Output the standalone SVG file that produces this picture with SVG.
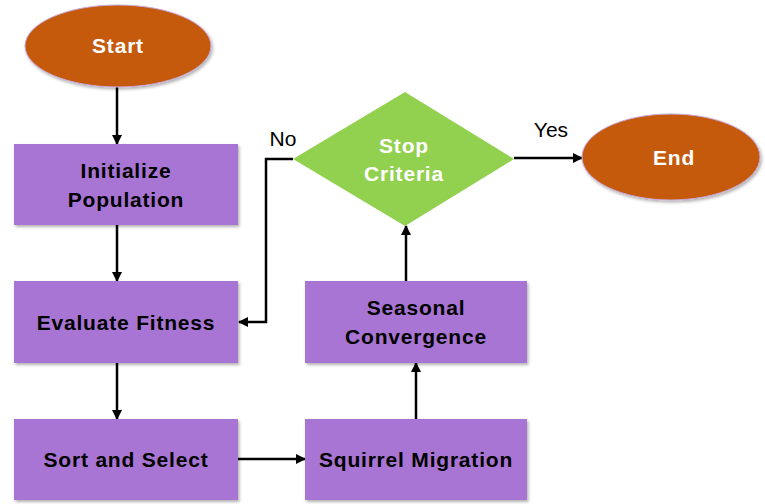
<svg xmlns="http://www.w3.org/2000/svg" width="765" height="504" viewBox="0 0 765 504">
  <defs>
    <filter id="shadow" x="-10%" y="-10%" width="125%" height="130%">
      <feDropShadow dx="1.5" dy="2" stdDeviation="1.5" flood-color="#000" flood-opacity="0.3"/>
    </filter>
    <marker id="arrow" viewBox="0 0 10 10" refX="9" refY="5" markerWidth="4" markerHeight="4" orient="auto" markerUnits="strokeWidth">
      <path d="M0,0 L10,5 L0,10 Z" fill="#000"/>
    </marker>
  </defs>
  <style>
    .term { fill: #C55A11; stroke: #c9a9d9; stroke-width: 1; filter: url(#shadow); }
    .proc { fill: #A974D4; filter: url(#shadow); }
    .dec { fill: #92D050; }
    .lbl { font-family: "Liberation Sans", Arial, sans-serif; font-weight: bold; font-size: 21px; letter-spacing: 0.8px; text-anchor: middle; }
    .dark { fill: #000; }
    .light { fill: #fff; }
    .edge { fill: none; stroke: #000; stroke-width: 2.5; marker-end: url(#arrow); }
    .edgelbl { font-family: "Liberation Sans", Arial, sans-serif; font-size: 21px; fill: #000; text-anchor: middle; }
  </style>
  <rect width="765" height="504" fill="#fff"/>

  <g id="connectors">
    <line class="edge" x1="117" y1="87" x2="117" y2="144"/>
    <line class="edge" x1="117" y1="225" x2="117" y2="281"/>
    <line class="edge" x1="117" y1="363" x2="117" y2="419"/>
    <line class="edge" x1="238" y1="459" x2="305" y2="459"/>
    <line class="edge" x1="416" y1="419" x2="416" y2="363"/>
    <line class="edge" x1="406" y1="281" x2="406" y2="226"/>
    <line class="edge" x1="514" y1="158" x2="582" y2="158"/>
    <polyline class="edge" points="293,159 266,159 266,322 239,322"/>
    <text class="edgelbl" x="283" y="146">No</text>
    <text class="edgelbl" x="551" y="137">Yes</text>
  </g>

  <g id="start">
    <ellipse class="term" cx="118" cy="46" rx="93" ry="41"/>
    <text class="lbl light" x="118" y="53">Start</text>
  </g>

  <g id="initialize">
    <rect class="proc" x="14" y="144" width="224" height="81"/>
    <text class="lbl dark" x="126" y="178">Initialize</text>
    <text class="lbl dark" x="126" y="207">Population</text>
  </g>

  <g id="evaluate">
    <rect class="proc" x="14" y="281" width="224" height="82"/>
    <text class="lbl dark" x="126" y="330">Evaluate Fitness</text>
  </g>

  <g id="sort">
    <rect class="proc" x="14" y="419" width="224" height="81"/>
    <text class="lbl dark" x="126" y="467">Sort and Select</text>
  </g>

  <g id="migration">
    <rect class="proc" x="305" y="419" width="222" height="81"/>
    <text class="lbl dark" x="416" y="467">Squirrel Migration</text>
  </g>

  <g id="seasonal">
    <rect class="proc" x="305" y="281" width="222" height="82"/>
    <text class="lbl dark" x="416" y="315">Seasonal</text>
    <text class="lbl dark" x="416" y="344">Convergence</text>
  </g>

  <g id="stop">
    <polygon class="dec" points="293,159 405,92 514,159 405,226"/>
    <text class="lbl light" x="404" y="153">Stop</text>
    <text class="lbl light" x="404" y="181">Criteria</text>
  </g>

  <g id="end">
    <ellipse class="term" cx="671" cy="157" rx="89" ry="43"/>
    <text class="lbl light" x="674" y="165">End</text>
  </g>
</svg>
